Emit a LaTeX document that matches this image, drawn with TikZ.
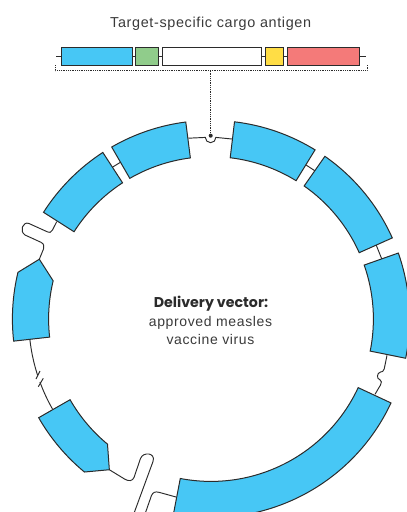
\documentclass[tikz,border=0pt]{standalone}
\usepackage{fontspec}
\setmainfont{Liberation Sans}
\newfontfamily\spaced[LetterSpace=4.5]{Liberation Sans}
\newfontfamily\heavy{Poppins}
\definecolor{ink}{HTML}{2B2B2B}
\definecolor{txt}{HTML}{3A3A3A}
\definecolor{segblue}{HTML}{47C7F5}
\definecolor{leaf}{HTML}{90CC8B}
\definecolor{sun}{HTML}{FFDD45}
\definecolor{coral}{HTML}{F47A79}
\tikzset{
  seg/.style={draw=ink,fill=segblue,line width=1pt,line join=miter},
  conn/.style={draw=ink,line width=0.95pt},
  barbox/.style={draw=ink,line width=1pt,inner sep=0pt,outer sep=0pt,minimum height=18.4pt},
  dots/.style={draw=ink,line width=0.9pt,dash pattern=on 0.9pt off 0.9pt},
  lab/.style={text=txt,inner sep=0pt,align=center}
}
\newcommand{\ringseg}[2]{(#1:198.6) arc[start angle=#1,end angle=#2,radius=198.6pt] -- (#2:162.4) arc[start angle=#2,end angle=#1,radius=162.4pt] -- cycle}
\begin{document}
\begin{tikzpicture}[x=1pt,y=-1pt]
\useasboundingbox (0,0) rectangle (407,512);
\clip (0,0) rectangle (407,512);
% insert bar
\node[lab,font=\spaced\fontsize{14.4}{16}\selectfont] (title) at (210.7,24.2) {Target-specific cargo antigen};
\coordinate (barL) at (56,56.4);
\coordinate (barR) at (366,56.4);
\node[barbox,fill=segblue,minimum width=71pt] (bBlue) at (97.2,56.4) {};
\node[barbox,fill=leaf,minimum width=23pt] (bGreen) at (147.2,56.4) {};
\node[barbox,fill=white,minimum width=99.4pt] (bWhite) at (212,56.4) {};
\node[barbox,fill=sun,minimum width=18.4pt] (bYellow) at (274.5,56.4) {};
\node[barbox,fill=coral,minimum width=72.4pt] (bRed) at (323.5,56.4) {};
\draw[conn] (barL) -- (bBlue) (bBlue) -- (bGreen) (bGreen) -- (bWhite) (bWhite) -- (bYellow) (bYellow) -- (bRed) (bRed) -- (barR);
% bracket
\coordinate (brL) at (55.3,65.3);
\coordinate (brR) at (367,65.3);
\coordinate (brM) at (210.7,70.7);
\draw[dots] (brL) |- (brR |- brM) -- (brR);
\fill[ink] (210.7,135.7) circle (2pt) coordinate (dot);
\draw[dots] (brM) -- (dot);
% ring coordinates
\begin{scope}[shift={(211,319)},y=1pt]
  \coordinate (s1b) at (58.4:181);
  \coordinate (s2a) at (55:181);
  \coordinate (s2b) at (24.1:181);
  \coordinate (s3a) at (19.4:181);
  \coordinate (s5b) at (-124:181.8);
  \coordinate (s6a) at (186.4:182.3);
  \coordinate (s6b) at (160.8:181.8);
  \coordinate (s7b) at (123:181);
  \coordinate (s8b) at (120:181);
  % plain links
  \draw[conn] (s8b) -- (s7b);
  \draw[conn] (s1b) -- (s2a);
  \draw[conn] (s2b) -- (s3a);
  % left link, upper part
  \draw[conn] (s6a) arc[start angle=186.4,end angle=198,radius=182.3pt] coordinate (brkA);
  % left link, lower part
  \draw[conn] (209.6:182.3) coordinate (s5c) arc[start angle=209.6,end angle=200.2,radius=182.3pt] coordinate (brkB);
  % segments
  \draw[seg] \ringseg{83.2}{58.4};
  \draw[seg] \ringseg{55}{24.1};
  \draw[seg] \ringseg{19.4}{-11.4};
  \draw[seg] \ringseg{-25}{-100.9};
  \draw[seg] \ringseg{147.5}{123};
  \draw[seg] \ringseg{120}{97.3};
  \draw[seg] (-150.2:198.6) arc[start angle=-150.2,end angle=-129.6,radius=198.6pt] -- (s5b) -- (-129.6:162.4) arc[start angle=-129.6,end angle=-150.2,radius=162.4pt] -- cycle;
  \draw[seg] (186.4:198.6) arc[start angle=186.4,end angle=166.4,radius=198.6pt] -- (s6b) -- (166.4:162.4) arc[start angle=166.4,end angle=186.4,radius=162.4pt] -- cycle;
\end{scope}
% break marks
\coordinate (k1a) at (40,371);
\coordinate (k1b) at (36,379);
\coordinate (k2a) at (43.3,378.3);
\coordinate (k2b) at (38.3,386.7);
\draw[conn] (k1a) -- (k1b);
\draw[conn] (k2a) -- (k2b);
% top link with notch
\coordinate (topL) at (188.4,138.2);
\coordinate (topR) at (232,139);
\draw[conn] (topL) -- (205.3,137.4) arc[start angle=180,end angle=360,radius=5.3pt] -- (topR);
% link with small bump
\coordinate (b3) at (387,355.3);
\coordinate (b4) at (375,394.3);
\draw[conn] (b3) -- (384.2,369) .. controls (383.5,372) and (382,371.5) .. (380.5,372) .. controls (376.5,373) and (376.5,379) .. (380,379.8) .. controls (382,380.5) and (381.5,383) .. (380.5,385) -- (b4);
% squiggles
\coordinate (q7) at (56.7,221.7);
\draw[conn] (q7) -- (52.5,230) .. controls (51,232.8) and (49.5,232.8) .. (47.5,231.9) -- (29,223.5) .. controls (23,221) and (19,231) .. (25,235) -- (41,242.3) .. controls (44,243.8) and (44.5,246.5) .. (43.5,249) -- (s6b);
\draw[conn] (s5b) -- (125,479.3) .. controls (129,481.5) and (132.5,481) .. (134,477.5) -- (140.5,458.5) .. controls (143,451.5) and (156,452.5) .. (153,461.5) -- (133,516);
\coordinate (q4) at (176,497);
\draw[conn] (q4) -- (159,492.3) .. controls (155,491.2) and (152.8,492.5) .. (151.5,495.5) -- (145,514);
% centre text
\node[lab,text=ink,font=\heavy\fontsize{14.2}{15}\selectfont\bfseries] (t1) at (211,303.5) {Delivery vector:};
\node[lab,font=\spaced\fontsize{14}{15}\selectfont] (t2) at (210.5,322.8) {approved measles};
\node[lab,font=\spaced\fontsize{14}{15}\selectfont] (t3) at (210.5,339.8) {vaccine virus};
\end{tikzpicture}
\end{document}
